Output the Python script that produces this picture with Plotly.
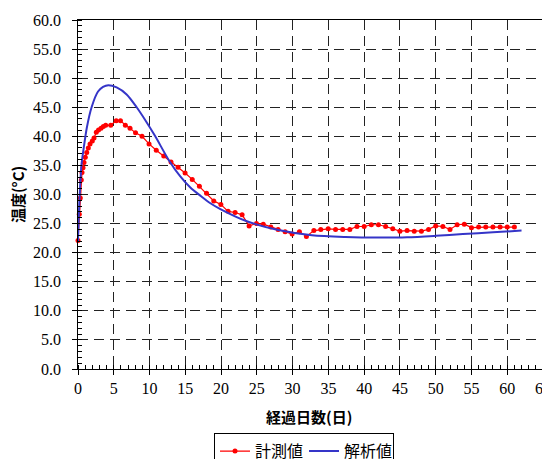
import plotly.graph_objects as go

# Measured values (計測値)
meas_day = [0.0, 0.18, 0.32, 0.46, 0.56, 0.70, 0.84, 1.02, 1.22, 1.44, 1.68, 2.0, 2.24, 2.56, 2.87,
            3.22, 3.54, 3.87, 4.57, 5.34, 5.94, 6.62, 7.27, 8.04, 8.95, 9.93, 10.94, 11.99, 13.0,
            13.99, 14.97, 15.97, 16.97, 17.97, 18.98, 19.97, 20.98, 21.96, 22.94, 23.92, 24.94,
            25.9, 26.95, 27.97, 28.95, 29.93, 30.95, 31.93, 32.97, 33.94, 34.97, 36, 37, 38, 39,
            40, 41, 42, 43, 44, 45, 46, 47, 48, 49, 50, 51, 52, 53, 54, 55, 56, 57, 58, 59, 60, 61]
meas_temp = [22.1, 26.6, 29.4, 32.5, 33.8, 34.6, 35.5, 36.4, 37.2, 38.0, 38.7, 39.2, 39.7, 40.7, 41.1,
             41.4, 41.7, 41.9, 41.9, 42.7, 42.7, 41.9, 41.4, 40.6, 40.0, 38.7, 37.6, 36.6, 35.6,
             34.7, 33.7, 32.6, 31.4, 30.2, 28.9, 28.3, 27.1, 26.9, 26.5, 24.6, 25.0,
             24.9, 24.4, 24.0, 23.6, 23.2, 23.6, 22.8, 23.8, 24.0, 24.1, 24.0, 24.0, 24.0, 24.5,
             24.5, 24.8, 24.8, 24.5, 24.1, 23.7, 23.8, 23.7, 23.7, 24.0, 24.6, 24.5, 24.0, 24.8,
             24.9, 24.3, 24.4, 24.4, 24.4, 24.4, 24.4, 24.4]

# Analysis values (解析値)
calc_day = [0.0, 0.1, 0.3, 0.5, 0.8, 1.22, 1.9, 2.8, 3.5, 4.24, 5.4, 6.8, 8.2, 9.5, 10.8,
            12.7, 14.3, 15.7, 17.1, 18.5, 19.9, 23.6, 28.0, 32.7, 37.4, 42.2, 46.0, 50.0,
            53.8, 58.0, 62.0]
calc_temp = [22.0, 26.0, 31.5, 35.3, 38.0, 41.4, 45.0, 47.7, 48.5, 48.8, 48.4, 47.2, 45.0, 42.6, 40.0,
             35.9, 33.1, 31.2, 29.8, 28.5, 27.5, 25.4, 23.9, 23.0, 22.7, 22.6, 22.65, 22.9,
             23.2, 23.5, 23.8]

x_ticks = list(range(0, 70, 5))
y_ticks = [v * 5 for v in range(13)]
y_tick_labels = [f"{v:.1f}" for v in y_ticks]

serif = "Times New Roman"
cjk = "Noto Sans CJK JP"

fig = go.Figure()
fig.add_trace(go.Scatter(
    x=meas_day, y=meas_temp, name="計測値", mode="lines+markers",
    line=dict(color="#ff0000", width=1.2),
    marker=dict(color="#ff0000", size=5, symbol="circle"),
    cliponaxis=False,
))
fig.add_trace(go.Scatter(
    x=calc_day, y=calc_temp, name="解析値", mode="lines",
    line=dict(color="#3535c8", width=2, shape="spline", smoothing=0.8),
))

axis_common = dict(
    showline=True, linecolor="black", linewidth=1, mirror=True,
    showgrid=True, gridcolor="#222", griddash="10px,6px", gridwidth=1,
    zeroline=False, ticks="outside", ticklen=5, tickcolor="black",
    tickfont=dict(family=serif, size=16, color="black"),
    automargin=False, ticklabeloverflow="allow",
)

fig.update_xaxes(
    range=[0, 65], tickvals=x_ticks,
    minor=dict(dtick=1, ticks="inside", ticklen=4, tickcolor="black", showgrid=False),
    **axis_common,
)
fig.update_yaxes(
    range=[0, 60], tickvals=y_ticks, showticklabels=False,
    minor=dict(dtick=1, ticks="inside", ticklen=4, tickcolor="black", showgrid=False),
    **axis_common,
)

# y tick labels placed on the y axis scale, a little further from the axis than plotly's default
y_label_annots = [
    dict(text=t, x=0, xref="paper", y=v, yref="y", xanchor="right", yanchor="middle",
         xshift=-15, showarrow=False, font=dict(family=serif, size=16, color="black"))
    for v, t in zip(y_ticks, y_tick_labels)
]

# The page body adds an 8px margin; the figure is sized so the plot lands where the reference has it.
fig.update_layout(
    width=550, height=451,
    margin=dict(l=70, r=15, t=12, b=90, autoexpand=False),
    paper_bgcolor="white", plot_bgcolor="white",
    showlegend=True,
    legend=dict(
        orientation="h", x=0.2925, xanchor="left", y=-0.184, yanchor="top",
        bordercolor="black", borderwidth=1, bgcolor="white",
        font=dict(family=cjk, size=16, color="black"),
        itemwidth=30, tracegroupgap=0, entrywidth=44,
    ),
    annotations=y_label_annots + [
        dict(text="<b>経過日数(日)</b>", x=0.497, xref="paper", y=-0.135, yref="paper",
             xanchor="center", yanchor="middle", showarrow=False,
             font=dict(family=cjk, size=15, color="black")),
        dict(text="<b>温度(°C)</b>", x=-0.13, xref="paper", y=0.5, yref="paper",
             xanchor="center", yanchor="middle", showarrow=False, textangle=-90,
             font=dict(family=cjk, size=15, color="black")),
    ],
)

fig.write_html("out.html")
